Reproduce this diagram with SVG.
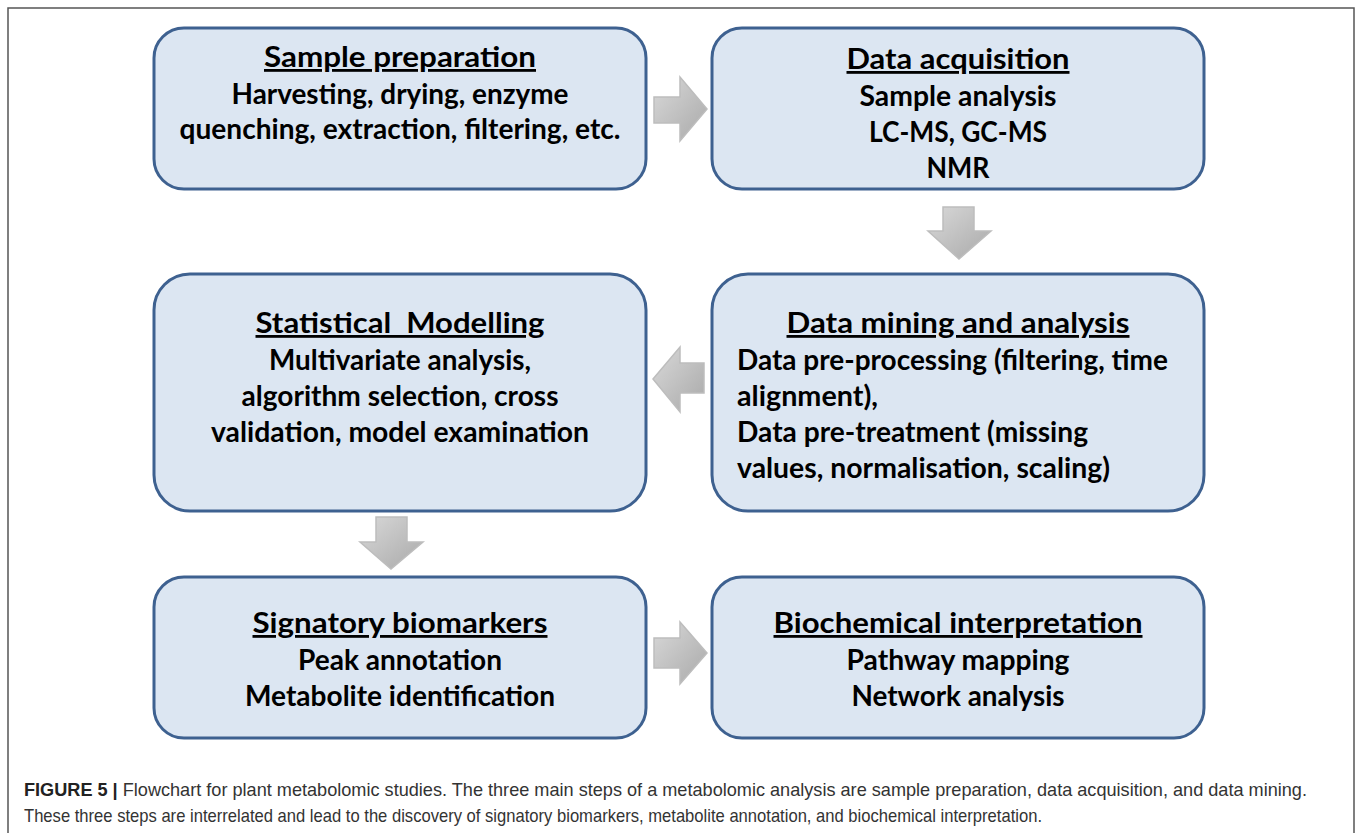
<svg xmlns="http://www.w3.org/2000/svg" width="1357" height="833" viewBox="0 0 1357 833">
<defs>
<style>
.box{fill:#dce6f2;stroke:#3e6190;stroke-width:3}
.t{font-family:Lato,"Noto Sans",sans-serif;font-weight:bold;font-size:28px;fill:#000;text-anchor:middle}
.ttl{text-decoration:underline}
.l{text-anchor:start}
.arr{fill:url(#g);stroke:#bdbdbd;stroke-width:1.5}
.cap{font-family:"Liberation Sans",Arial,sans-serif;font-size:18.5px;fill:#333}
</style>
<linearGradient id="g" x1="0" y1="0" x2="1" y2="1">
<stop offset="0" stop-color="#d9d9d9"/>
<stop offset="1" stop-color="#a9a9a9"/>
</linearGradient>
</defs>
<rect x="8" y="8" width="1346" height="840" fill="#fff" stroke="#555" stroke-width="1.5"/>
<g id="connectors">
<polygon class="arr" points="654,97 680,97 680,77 707,109 680,141 680,123 654,123"/>
<polygon class="arr" points="943,207 974,207 974,231 991,231 959,259 928,231 943,231"/>
<polygon class="arr" points="704,363 680,363 680,347 653,379 680,412 680,393 704,393"/>
<polygon class="arr" points="376,517 407,517 407,542 423,542 391,569 360,542 376,542"/>
<polygon class="arr" points="654,638 680,638 680,622 707,653 680,684 680,668 654,668"/>
</g>
<g id="sample-preparation">
<rect class="box" x="154" y="28" width="492" height="161" rx="30"/>
<text class="t ttl" x="400" y="67" textLength="272" lengthAdjust="spacingAndGlyphs">Sample preparation</text>
<text class="t" x="400" y="104" textLength="337" lengthAdjust="spacingAndGlyphs">Harvesting, drying, enzyme</text>
<text class="t" x="400" y="139" textLength="441" lengthAdjust="spacingAndGlyphs">quenching, extraction, filtering, etc.</text>
</g>
<g id="data-acquisition">
<rect class="box" x="712" y="28" width="492" height="161" rx="30"/>
<text class="t ttl" x="958" y="69" textLength="223" lengthAdjust="spacingAndGlyphs">Data acquisition</text>
<text class="t" x="958" y="106" textLength="197" lengthAdjust="spacingAndGlyphs">Sample analysis</text>
<text class="t" x="958" y="142" textLength="178" lengthAdjust="spacingAndGlyphs">LC-MS, GC-MS</text>
<text class="t" x="958" y="178" textLength="63" lengthAdjust="spacingAndGlyphs">NMR</text>
</g>
<g id="statistical-modelling">
<rect class="box" x="154" y="274" width="492" height="237" rx="36"/>
<text class="t ttl" x="400" y="333" textLength="289" lengthAdjust="spacingAndGlyphs" xml:space="preserve">Statistical  Modelling</text>
<text class="t" x="400" y="370" textLength="262" lengthAdjust="spacingAndGlyphs">Multivariate analysis,</text>
<text class="t" x="400" y="406" textLength="317" lengthAdjust="spacingAndGlyphs">algorithm selection, cross</text>
<text class="t" x="400" y="442" textLength="378" lengthAdjust="spacingAndGlyphs">validation, model examination</text>
</g>
<g id="data-mining">
<rect class="box" x="712" y="274" width="492" height="237" rx="36"/>
<text class="t ttl" x="958" y="333" textLength="343" lengthAdjust="spacingAndGlyphs">Data mining and analysis</text>
<text class="t l" x="737" y="370" textLength="431" lengthAdjust="spacingAndGlyphs">Data pre-processing (filtering, time</text>
<text class="t l" x="737" y="406" textLength="141" lengthAdjust="spacingAndGlyphs">alignment),</text>
<text class="t l" x="737" y="442" textLength="351" lengthAdjust="spacingAndGlyphs">Data pre-treatment (missing</text>
<text class="t l" x="737" y="478" textLength="373" lengthAdjust="spacingAndGlyphs">values, normalisation, scaling)</text>
</g>
<g id="signatory-biomarkers">
<rect class="box" x="154" y="577" width="492" height="161" rx="30"/>
<text class="t ttl" x="400" y="633" textLength="295" lengthAdjust="spacingAndGlyphs">Signatory biomarkers</text>
<text class="t" x="400" y="670" textLength="204" lengthAdjust="spacingAndGlyphs">Peak annotation</text>
<text class="t" x="400" y="706" textLength="310" lengthAdjust="spacingAndGlyphs">Metabolite identification</text>
</g>
<g id="biochemical-interpretation">
<rect class="box" x="712" y="577" width="492" height="161" rx="30"/>
<text class="t ttl" x="958" y="633" textLength="369" lengthAdjust="spacingAndGlyphs">Biochemical interpretation</text>
<text class="t" x="958" y="670" textLength="223" lengthAdjust="spacingAndGlyphs">Pathway mapping</text>
<text class="t" x="958" y="706" textLength="213" lengthAdjust="spacingAndGlyphs">Network analysis</text>
</g>
<g id="caption">
<text class="cap" x="24" y="796" textLength="1283" lengthAdjust="spacingAndGlyphs"><tspan font-weight="bold" fill="#222">FIGURE 5 |</tspan> Flowchart for plant metabolomic studies. The three main steps of a metabolomic analysis are sample preparation, data acquisition, and data mining.</text>
<text class="cap" x="24" y="822" textLength="1018" lengthAdjust="spacingAndGlyphs">These three steps are interrelated and lead to the discovery of signatory biomarkers, metabolite annotation, and biochemical interpretation.</text>
</g>
</svg>
